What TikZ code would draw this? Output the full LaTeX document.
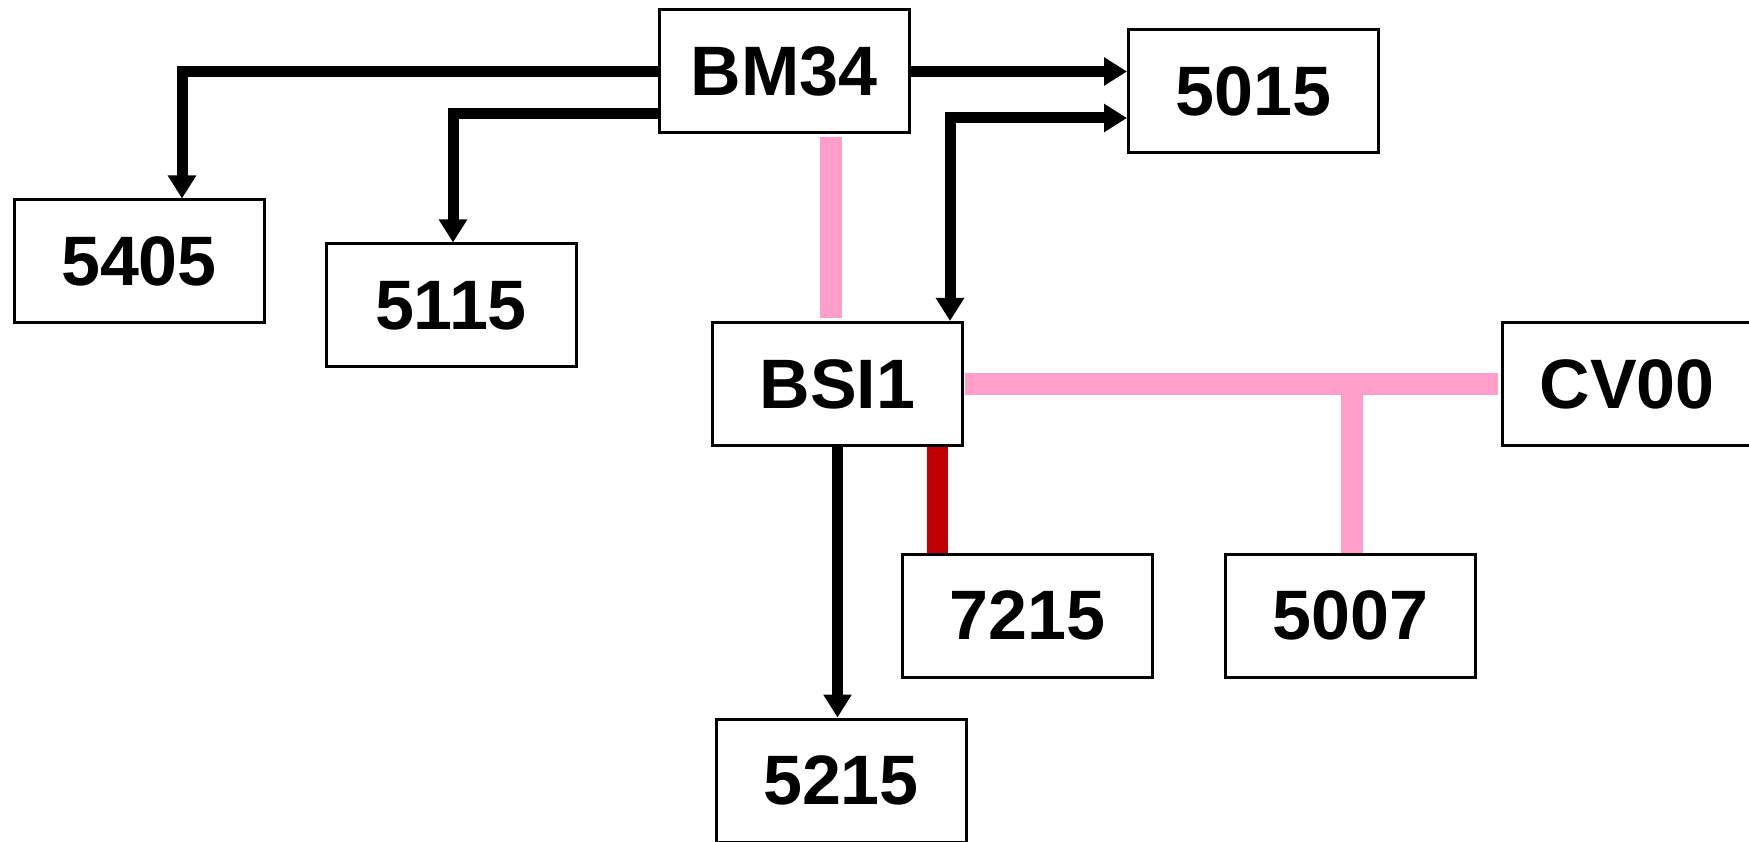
\documentclass[tikz,border=0pt]{standalone}
\usepackage{fontspec}
\setmainfont{Liberation Sans}
\usepackage{tikz}
\usetikzlibrary{arrows.meta,positioning}
\definecolor{canpink}{HTML}{FF9EC8}
\definecolor{diagred}{HTML}{C00000}

\begin{document}
\begin{tikzpicture}[x=1pt, y=-1pt,
  ecu/.style={draw, line width=3pt, minimum width=250pt, minimum height=123pt,
              inner sep=0pt, font=\fontsize{70}{84}\selectfont\bfseries},
  ecutip/.tip={Triangle[width=27pt,length=23pt]},
  arr/.style={-ecutip, line width=11pt},
  dblarr/.style={ecutip-ecutip, line width=11pt},
  canbus/.style={draw=canpink, line width=22pt},
  diagline/.style={draw=diagred, line width=21pt}
]
\fill[white] (0,0) rectangle (1749,842);
\useasboundingbox (0,0) rectangle (1749,842);

\node[ecu] (bm34) at (784,71.5) {BM34};
\node[ecu] (n5015) at (1253.5,91.5) {5015};
\node[ecu] (n5405) at (139,261.5) {5405};
\node[ecu] (n5115) at (451,305.5) {5115};
\node[ecu] (bsi1) at (837.5,384) {BSI1};
\node[ecu] (cv00) at (1627,384) {CV00};
\node[ecu] (n7215) at (1027.5,615.5) {7215};
\node[ecu, right=70pt of n7215] (n5007) {5007};
\node[ecu] (n5215) at (841,780.5) {5215};

% black links
\draw[arr] (bm34.west) -| ([xshift=43pt]n5405.north);
\draw[arr] ([yshift=-42.5pt]bm34.west) -| ([xshift=2pt]n5115.north);
\draw[arr] (bm34.east) -- (bm34.east -| n5015.west);
\draw[dblarr] ([yshift=-26.5pt]n5015.west) -| ([xshift=112.5pt]bsi1.north);
\draw[arr] (bsi1.south) -- (bsi1.south |- n5215.north);

% buses
\draw[canbus, shorten <=3pt, shorten >=3pt] ([xshift=47pt]bm34.south) -- ([xshift=47pt]bm34.south |- bsi1.north);
\draw[canbus, shorten <=1pt, shorten >=3pt] (bsi1.east) -- (cv00.west);
\draw[canbus] ([xshift=1.5pt]n5007.north) -- ([xshift=1.5pt]n5007.north |- bsi1.east);
\draw[diagline] ([xshift=99.5pt]bsi1.south) -- ([xshift=99.5pt]bsi1.south |- n7215.north);
\end{tikzpicture}
\end{document}
